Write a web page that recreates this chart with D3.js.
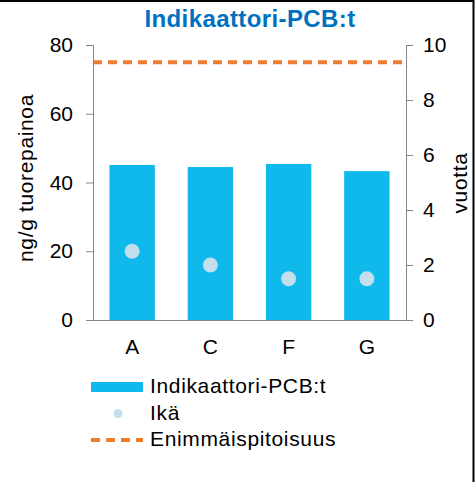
<!DOCTYPE html>
<html>
<head>
<meta charset="utf-8">
<script src="https://cdn.jsdelivr.net/npm/d3@7"></script>
<style>
  body { margin: 0; background: #fff; }
  svg { display: block; font-family: "Liberation Sans", Arial, sans-serif; }
</style>
</head>
<body>
<div id="chart"></div>
<script>
const categories = ["A", "C", "F", "G"];
const pcbValues = [45.1, 44.5, 45.4, 43.3];
const ageValues = [2.5, 2.0, 1.5, 1.5];
const limitValue = 75;
const leftTicks = [0, 20, 40, 60, 80];
const rightTicks = [0, 2, 4, 6, 8, 10];
const legendItems = ["Indikaattori-PCB:t", "Ikä", "Enimmäispitoisuus"];

const WIDTH = 475;
const HEIGHT = 482;
const PLOT_LEFT = 93;
const PLOT_RIGHT = 406;
const PLOT_TOP = 45;
const PLOT_BOTTOM = 320;
const AXIS_COLOR = "#868686";
const BAR_COLOR = "#0FB9EC";
const DOT_COLOR = "#C2DFEB";
const LIMIT_COLOR = "#ED7D31";
const FONT_SIZE = "21px";
const LETTER_SPACING = "0.65px";
const DASH = "9,6";

const svg = d3
  .select("#chart")
  .append("svg")
  .attr("width", WIDTH)
  .attr("height", HEIGHT);

svg.append("rect").attr("width", WIDTH).attr("height", HEIGHT).attr("fill", "#fff");

const x = d3
  .scaleBand()
  .domain(categories)
  .range([PLOT_LEFT, PLOT_RIGHT])
  .paddingInner(0.42)
  .paddingOuter(0.21);

const yLeft = d3.scaleLinear().domain([0, 80]).range([PLOT_BOTTOM, PLOT_TOP]);
const yRight = d3.scaleLinear().domain([0, 10]).range([PLOT_BOTTOM, PLOT_TOP]);

// bars
svg
  .append("g")
  .selectAll("rect")
  .data(categories)
  .join("rect")
  .attr("x", (d) => x(d))
  .attr("y", (d, i) => yLeft(pcbValues[i]))
  .attr("width", x.bandwidth())
  .attr("height", (d, i) => yLeft(0) - yLeft(pcbValues[i]))
  .attr("fill", BAR_COLOR);

// age dots (right axis)
svg
  .append("g")
  .selectAll("circle")
  .data(categories)
  .join("circle")
  .attr("cx", (d) => x(d) + x.bandwidth() / 2)
  .attr("cy", (d, i) => yRight(ageValues[i]))
  .attr("r", 7.5)
  .attr("fill", DOT_COLOR);

// limit line
svg
  .append("line")
  .attr("x1", PLOT_LEFT)
  .attr("x2", PLOT_RIGHT)
  .attr("y1", yLeft(limitValue))
  .attr("y2", yLeft(limitValue))
  .attr("stroke", LIMIT_COLOR)
  .attr("stroke-width", 4)
  .attr("stroke-dasharray", DASH);

function styleAxis(g) {
  g.select(".domain").attr("stroke", AXIS_COLOR);
  g.selectAll(".tick line").attr("stroke", AXIS_COLOR);
  g.selectAll(".tick text")
    .attr("fill", "#000")
    .style("font-size", FONT_SIZE)
    .style("font-family", "Liberation Sans, Arial, sans-serif");
}

svg
  .append("g")
  .attr("transform", `translate(${PLOT_LEFT},0)`)
  .call(d3.axisLeft(yLeft).tickValues(leftTicks).tickSize(7).tickSizeOuter(7).tickPadding(13))
  .call(styleAxis);

svg
  .append("g")
  .attr("transform", `translate(${PLOT_RIGHT},0)`)
  .call(d3.axisRight(yRight).tickValues(rightTicks).tickSize(7).tickSizeOuter(7).tickPadding(10))
  .call(styleAxis);

const xAxis = svg
  .append("g")
  .attr("transform", `translate(0,${PLOT_BOTTOM})`)
  .call(d3.axisBottom(x).tickSize(0).tickSizeOuter(0).tickPadding(19))
  .call(styleAxis);
xAxis.select(".domain").attr("d", `M${PLOT_LEFT},0.5H${PLOT_RIGHT + 7}`);

// title
svg
  .append("text")
  .attr("x", 250)
  .attr("y", 27)
  .attr("text-anchor", "middle")
  .attr("fill", "#0070C0")
  .attr("font-weight", "bold")
  .style("font-size", "24px")
  .style("letter-spacing", "0.4px")
  .text("Indikaattori-PCB:t");

// axis titles
svg
  .append("text")
  .attr("transform", `translate(33,178) rotate(-90)`)
  .attr("text-anchor", "middle")
  .style("font-size", FONT_SIZE)
  .style("letter-spacing", LETTER_SPACING)
  .text("ng/g tuorepainoa");

svg
  .append("text")
  .attr("transform", `translate(467,183) rotate(-90)`)
  .attr("text-anchor", "middle")
  .style("font-size", FONT_SIZE)
  .style("letter-spacing", LETTER_SPACING)
  .text("vuotta");

// legend
const legend = svg
  .append("g")
  .selectAll("g")
  .data(legendItems)
  .join("g")
  .attr("transform", (d, i) => `translate(91,${387 + i * 26.5})`);

legend
  .filter((d, i) => i === 0)
  .append("rect")
  .attr("x", 0)
  .attr("y", -5)
  .attr("width", 52)
  .attr("height", 10)
  .attr("fill", BAR_COLOR);

legend
  .filter((d, i) => i === 1)
  .append("circle")
  .attr("cx", 27)
  .attr("cy", 0)
  .attr("r", 4.5)
  .attr("fill", DOT_COLOR);

legend
  .filter((d, i) => i === 2)
  .append("line")
  .attr("x1", 0)
  .attr("x2", 52)
  .attr("stroke", LIMIT_COLOR)
  .attr("stroke-width", 4)
  .attr("stroke-dasharray", DASH);

legend
  .append("text")
  .attr("x", 59)
  .attr("y", 6)
  .style("font-size", FONT_SIZE)
  .style("letter-spacing", LETTER_SPACING)
  .text((d) => d);

// frame (top and right edge)
svg
  .append("path")
  .attr("d", `M0,1H${WIDTH - 1.5}V${HEIGHT}`)
  .attr("fill", "none")
  .attr("stroke", "#000")
  .attr("stroke-width", 2);
</script>
</body>
</html>
